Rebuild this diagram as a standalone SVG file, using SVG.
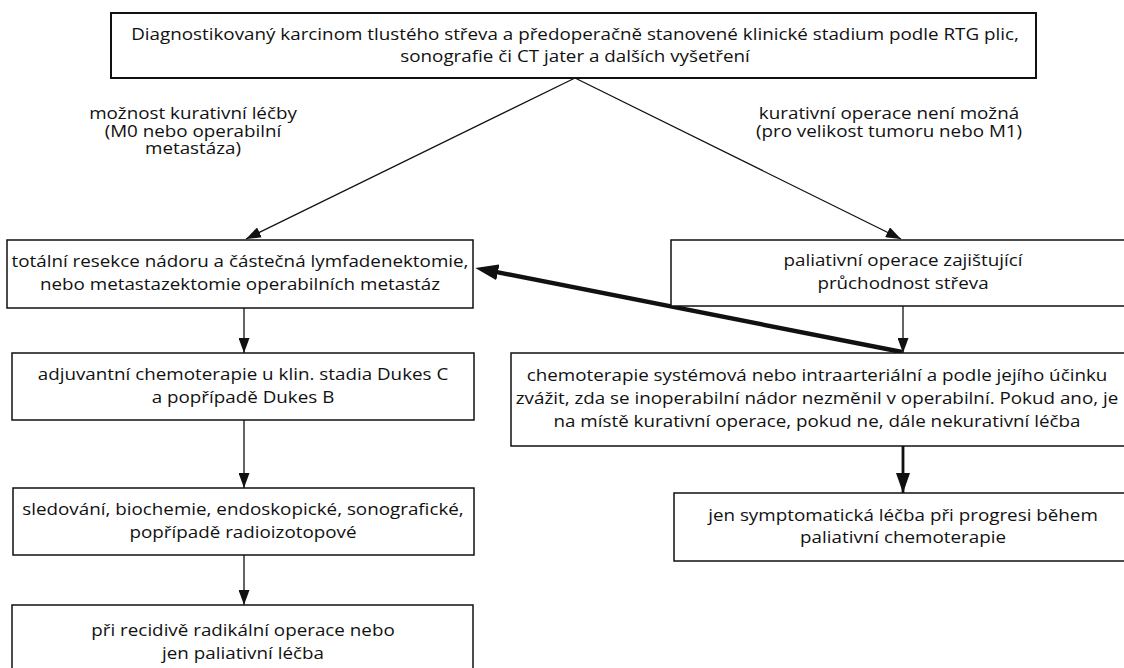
<svg xmlns="http://www.w3.org/2000/svg" width="1124" height="668" viewBox="0 0 1124 668">
<defs>
<style>
.box{fill:#fff;stroke:#111;stroke-width:1.5}
.t{font-family:"Open Sans","Noto Sans","Liberation Sans",sans-serif;font-size:16.5px;fill:#111;text-anchor:middle}
.c{stroke:#111;stroke-width:1.3;fill:none}
.ck{stroke:#111;stroke-width:2.8;fill:none}
.cx{stroke:#111;stroke-width:4.4;fill:none}
</style>
<marker id="ah" markerUnits="userSpaceOnUse" markerWidth="15" markerHeight="11" refX="15" refY="5.5" orient="auto">
<path d="M0,0 L15,5.5 L0,11 z" fill="#111"/>
</marker>
<marker id="ahm" markerUnits="userSpaceOnUse" markerWidth="20" markerHeight="14" refX="20" refY="7" orient="auto">
<path d="M0,0 L20,7 L0,14 z" fill="#111"/>
</marker>
<marker id="ahb" markerUnits="userSpaceOnUse" markerWidth="23" markerHeight="16" refX="6" refY="8" orient="auto">
<path d="M0,0 L23,8 L0,16 z" fill="#111"/>
</marker>
</defs>
<rect width="1124" height="668" fill="#fff"/>

<g id="connectors">
<line class="c" x1="575" y1="78" x2="246" y2="239" marker-end="url(#ah)"/>
<line class="c" x1="575" y1="78" x2="901" y2="239" marker-end="url(#ah)"/>
<line class="c" x1="244" y1="308" x2="244" y2="353" marker-end="url(#ah)"/>
<line class="c" x1="244" y1="420" x2="244" y2="488" marker-end="url(#ah)"/>
<line class="c" x1="244" y1="555" x2="244" y2="605" marker-end="url(#ah)"/>
<line class="c" x1="903" y1="306" x2="903" y2="353" marker-end="url(#ah)"/>
<line class="ck" x1="903" y1="446" x2="903" y2="493" marker-end="url(#ahm)"/>
<line class="cx" x1="902" y1="352" x2="492" y2="271.2" marker-end="url(#ahb)"/>
</g>

<g id="label-left">
<text class="t" transform="translate(193,119) scale(1.14,1)"><tspan x="0" y="0">možnost kurativní léčby</tspan><tspan x="0" dy="17.5">(M0 nebo operabilní</tspan><tspan x="0" dy="17.5">metastáza)</tspan></text>
</g>
<g id="label-right">
<text class="t" transform="translate(889,119) scale(1.14,1)"><tspan x="0" y="0">kurativní operace není možná</tspan><tspan x="0" dy="17.5">(pro velikost tumoru nebo M1)</tspan></text>
</g>

<g id="n-diagnoza">
<rect class="box" x="111" y="13" width="925" height="65" style="stroke-width:2"/>
<text class="t" transform="translate(575,39.5) scale(1.14,1)"><tspan x="0" y="0">Diagnostikovaný karcinom tlustého střeva a předoperačně stanovené klinické stadium podle RTG plic,</tspan><tspan x="0" dy="23">sonografie či CT jater a dalších vyšetření</tspan></text>
</g>

<g id="n-resekce">
<rect class="box" x="7" y="240" width="466" height="68"/>
<text class="t" transform="translate(240,267) scale(1.14,1)"><tspan x="0" y="0">totální resekce nádoru a částečná lymfadenektomie,</tspan><tspan x="0" dy="23">nebo metastazektomie operabilních metastáz</tspan></text>
</g>

<g id="n-paliativni-operace">
<rect class="box" x="671" y="240" width="470" height="66"/>
<text class="t" transform="translate(903,266) scale(1.14,1)"><tspan x="0" y="0">paliativní operace zajištující</tspan><tspan x="0" dy="23">průchodnost střeva</tspan></text>
</g>

<g id="n-adjuvantni">
<rect class="box" x="12" y="353" width="462" height="67"/>
<text class="t" transform="translate(243,380) scale(1.14,1)"><tspan x="0" y="0">adjuvantní chemoterapie u klin. stadia Dukes C</tspan><tspan x="0" dy="23">a popřípadě Dukes B</tspan></text>
</g>

<g id="n-chemoterapie">
<rect class="box" x="511" y="353" width="630" height="93"/>
<text class="t" transform="translate(817,381) scale(1.14,1)"><tspan x="0" y="0">chemoterapie systémová nebo intraarteriální a podle jejího účinku</tspan><tspan x="0" dy="23">zvážit, zda se inoperabilní nádor nezměnil v operabilní. Pokud ano, je</tspan><tspan x="0" dy="23">na místě kurativní operace, pokud ne, dále nekurativní léčba</tspan></text>
</g>

<g id="n-sledovani">
<rect class="box" x="13" y="488" width="461" height="67"/>
<text class="t" transform="translate(243,515) scale(1.14,1)"><tspan x="0" y="0">sledování, biochemie, endoskopické, sonografické,</tspan><tspan x="0" dy="23">popřípadě radioizotopové</tspan></text>
</g>

<g id="n-symptomaticka">
<rect class="box" x="674" y="493" width="467" height="68"/>
<text class="t" transform="translate(903,520.5) scale(1.14,1)"><tspan x="0" y="0">jen symptomatická léčba při progresi během</tspan><tspan x="0" dy="23">paliativní chemoterapie</tspan></text>
</g>

<g id="n-recidiva">
<rect class="box" x="12" y="605" width="461" height="80"/>
<text class="t" transform="translate(243,636) scale(1.14,1)"><tspan x="0" y="0">při recidivě radikální operace nebo</tspan><tspan x="0" dy="23">jen paliativní léčba</tspan></text>
</g>
</svg>
